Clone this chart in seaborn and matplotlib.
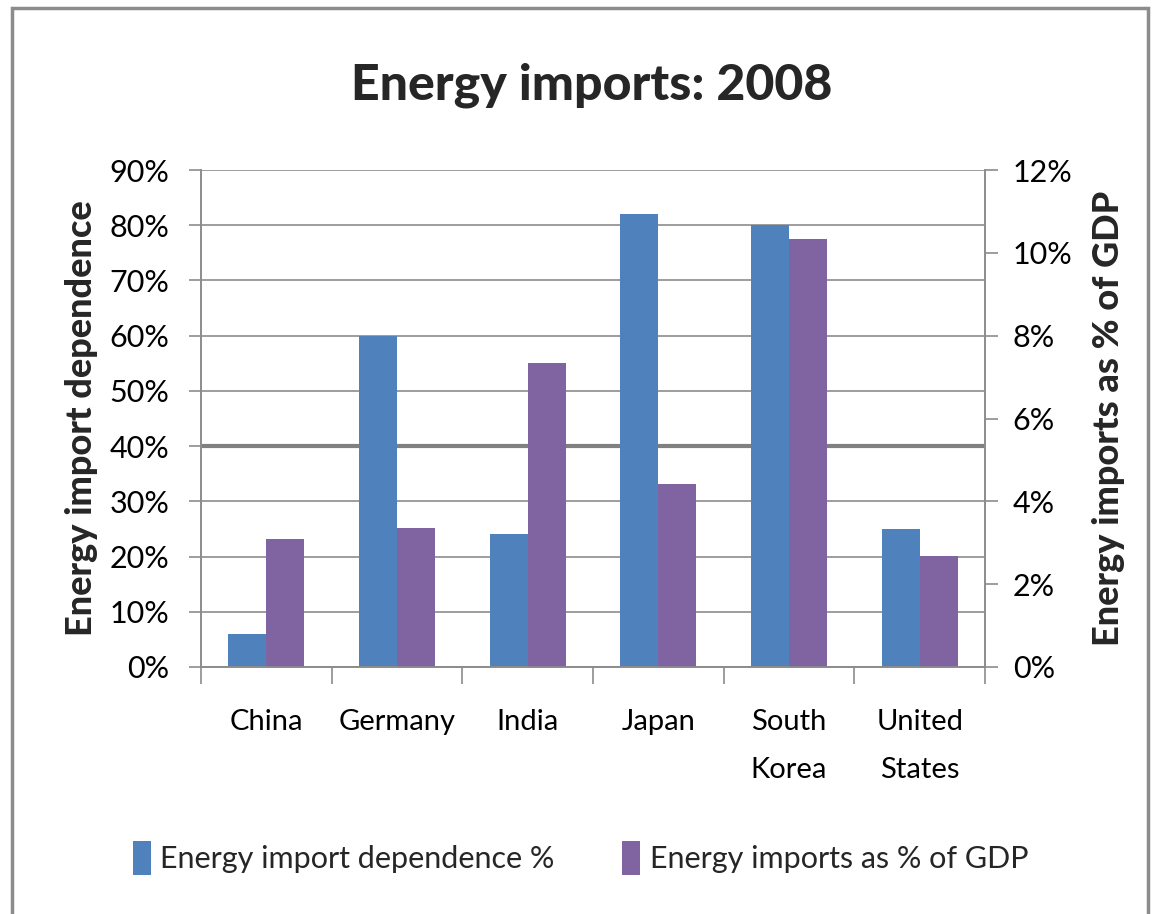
import matplotlib
matplotlib.use("Agg")
import matplotlib.pyplot as plt
from matplotlib import font_manager
from matplotlib.patches import Patch, Rectangle
from matplotlib.ticker import FixedLocator, FuncFormatter
import numpy as np
import pandas as pd
import seaborn as sns

# Data
countries = ["China", "Germany", "India", "Japan", "South\nKorea", "United\nStates"]
import_dependence = [6, 60, 24, 82, 80, 25]          # % (left axis)
imports_share_gdp = [3.08, 3.35, 7.35, 4.42, 10.33, 2.67]  # % of GDP (right axis)
series_names = ["Energy import dependence %", "Energy imports as % of GDP"]
left_ticks = [0, 10, 20, 30, 40, 50, 60, 70, 80, 90]
right_ticks = [0, 2, 4, 6, 8, 10, 12]

BLUE = "#4f81bd"
PURPLE = "#8064a2"
GRID = "#8c8c8c"


def pick_font(candidates):
    for name in candidates:
        try:
            font_manager.findfont(name, fallback_to_default=False)
            return name
        except Exception:
            continue
    return "DejaVu Sans"


narrow = pick_font(["Liberation Sans Narrow", "Lato"])
main_font = pick_font(["Lato", "DejaVu Sans"])

sns.set_theme(style="white")
plt.rcParams["font.family"] = [main_font, "DejaVu Sans"]

fig = plt.figure(figsize=(11.54, 9.14), dpi=100)
ax = fig.add_axes([201 / 1154, 1 - 667 / 914, 784 / 1154, 497 / 914])
ax2 = ax.twinx()

df_left = pd.DataFrame({"country": countries, "value": import_dependence,
                        "series": series_names[0]})
df_right = pd.DataFrame({"country": countries, "value": imports_share_gdp,
                         "series": series_names[1]})
palette = {series_names[0]: BLUE, series_names[1]: PURPLE}

sns.barplot(data=df_left, x="country", y="value", hue="series",
            hue_order=series_names, order=countries, palette=palette,
            width=0.58, dodge=True, saturation=1, ax=ax, legend=False,
            edgecolor="none")
sns.barplot(data=df_right, x="country", y="value", hue="series",
            hue_order=series_names, order=countries, palette=palette,
            width=0.58, dodge=True, saturation=1, ax=ax2, legend=False,
            edgecolor="none")

# Left axis
ax.set_xlim(-0.5, len(countries) - 0.5)
ax.set_ylim(0, 90)
ax.set_yticks(left_ticks)
ax.yaxis.set_major_formatter(FuncFormatter(lambda v, _: f"{v:.0f}%"))
ax.yaxis.grid(True, color=GRID, linewidth=1.2)
ax.xaxis.grid(False)
ax.set_axisbelow(True)
grid_lines = ax.get_ygridlines()
grid_lines[4].set_linewidth(3.0)
grid_lines[4].set_color("#808080")

# Right axis
ax2.set_ylim(0, 12)
ax2.set_yticks(right_ticks)
ax2.yaxis.set_major_formatter(FuncFormatter(lambda v, _: f"{v:.0f}%"))
ax2.grid(False)

for a in (ax, ax2):
    a.spines["top"].set_visible(False)
    for side in ("left", "right", "bottom"):
        a.spines[side].set_color(GRID)
        a.spines[side].set_linewidth(1.2)

ax.tick_params(axis="y", which="major", left=True, length=9, width=1.2,
               color=GRID, labelsize=22, labelcolor="black", pad=14)
ax2.tick_params(axis="y", which="major", right=True, length=9, width=1.2,
                color=GRID, labelsize=22, labelcolor="black", pad=11)
for lab in ax.get_yticklabels() + ax2.get_yticklabels():
    lab.set_family([narrow, "DejaVu Sans"])

# Category axis: labels at centres, tick marks at group boundaries
ax.set_xticks(range(len(countries)))
ax.set_xticklabels(countries, fontsize=21, family=[narrow, "DejaVu Sans"],
                   linespacing=2.05, va="top")
ax.tick_params(axis="x", which="major", bottom=False, length=0, pad=30,
               labelcolor="black")
ax.xaxis.set_minor_locator(FixedLocator(np.arange(-0.5, len(countries), 1.0)))
ax.tick_params(axis="x", which="minor", bottom=True, length=12, width=1.2,
               color=GRID, direction="out")
ax.set_xlabel("")

ax.set_ylabel("Energy import dependence", fontsize=26, fontweight="black",
              labelpad=8)
ax2.set_ylabel("Energy imports as % of GDP", fontsize=26, fontweight="black",
               rotation=90, labelpad=14)
ax2.yaxis.set_label_position("right")

fig.text(0.513, 1 - 85 / 914, "Energy imports: 2008", ha="center",
         va="center", fontsize=36, fontweight="black")

handles = [Patch(facecolor=BLUE, edgecolor="none"),
           Patch(facecolor=PURPLE, edgecolor="none")]
leg = fig.legend(handles, series_names, loc="center",
                 bbox_to_anchor=(0.503, 1 - 858 / 914), ncol=2, frameon=False,
                 handlelength=0.6, handleheight=1.35, handletextpad=0.3,
                 columnspacing=2.2,
                 prop={"family": [narrow, "DejaVu Sans"], "size": 22})

# Outer chart frame
fig.patches.append(Rectangle((12 / 1154, -0.02), 1136 / 1154, 1.02 - 8 / 914,
                             transform=fig.transFigure, fill=False,
                             edgecolor="#8c8c8c", linewidth=2.5))

fig.savefig("out.png", dpi=100, facecolor="white")
